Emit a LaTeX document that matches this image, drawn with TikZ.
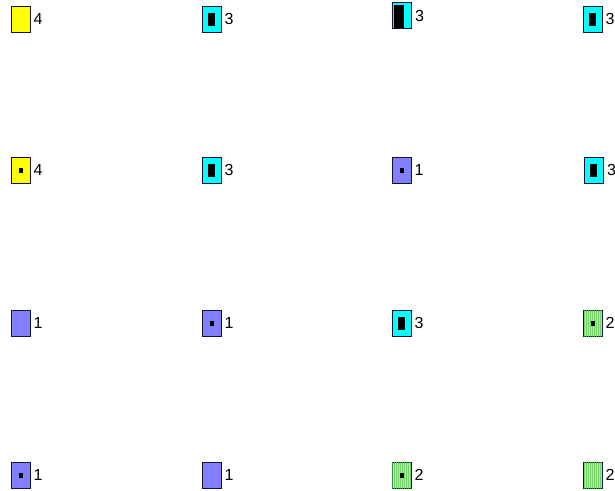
\documentclass[tikz,border=0pt]{standalone}
\usepackage{fontspec}
\setmainfont{Liberation Sans}
\usepackage{tikz}
\usetikzlibrary{positioning,patterns}
\definecolor{yelfill}{RGB}{255,255,0}
\definecolor{cyafill}{RGB}{0,255,255}
\definecolor{blufill}{RGB}{128,128,255}
\definecolor{grnfill}{RGB}{160,240,150}
\definecolor{grnline}{RGB}{100,200,90}
\definecolor{edgecol}{RGB}{20,20,50}
\pgfdeclarepatternformonly{finelines}{\pgfpointorigin}{\pgfqpoint{1.6pt}{1pt}}{\pgfqpoint{1.6pt}{1pt}}{
  \pgfsetlinewidth{0.5pt}
  \pgfpathmoveto{\pgfqpoint{0.4pt}{0pt}}
  \pgfpathlineto{\pgfqpoint{0.4pt}{1pt}}
  \pgfusepath{stroke}
}
\tikzset{
  cellbox/.style={draw=edgecol, line width=0.6pt, inner sep=0pt, minimum width=14.25pt, minimum height=19.5pt},
  yelcell/.style={cellbox, fill=yelfill},
  cyacell/.style={cellbox, fill=cyafill},
  blucell/.style={cellbox, fill=blufill},
  grncell/.style={cellbox, fill=grnfill, postaction={pattern=finelines, pattern color=grnline}},
  smallmark/.style={fill=black, inner sep=0pt, minimum width=3pt, minimum height=3.75pt},
  midmark/.style={fill=black, inner sep=0pt, minimum width=5.25pt, minimum height=9.75pt},
  bigmark/.style={fill=black, inner sep=0pt, minimum width=7.5pt, minimum height=17.25pt},
  lab/.style={inner sep=0pt, font=\fontsize{12}{14}\selectfont},
}

\begin{document}
\begin{tikzpicture}[x=0.75pt, y=-0.75pt, node distance=2.25pt]
  \useasboundingbox (0,0) rectangle (615,490);
  % first row
  \node[yelcell] (c11) at (20.5,19) {};
  \node[lab, right=of c11] (l11) {4};
  \node[cyacell] (c12) at (211.5,19) {};
  \node[midmark] (m12) at (c12) {};
  \node[lab, right=of c12] (l12) {3};
  \node[cyacell] (c13) at (402,15.5) {};
  \node[bigmark] (m13) at (399,16) {};
  \node[lab, right=of c13] (l13) {3};
  \node[cyacell] (c14) at (592.5,19) {};
  \node[midmark] (m14) at (c14) {};
  \node[lab, right=of c14] (l14) {3};
  % second row
  \node[yelcell] (c21) at (20.5,170) {};
  \node[smallmark] (m21) at (c21) {};
  \node[lab, right=of c21] (l21) {4};
  \node[cyacell] (c22) at (211.5,170) {};
  \node[midmark] (m22) at (c22) {};
  \node[lab, right=of c22] (l22) {3};
  \node[blucell] (c23) at (401.5,170) {};
  \node[smallmark] (m23) at (c23) {};
  \node[lab, right=of c23] (l23) {1};
  \node[cyacell] (c24) at (594,170) {};
  \node[midmark] (m24) at (593,170) {};
  \node[lab, right=of c24] (l24) {3};
  % third row
  \node[blucell] (c31) at (20.5,323) {};
  \node[lab, right=of c31] (l31) {1};
  \node[blucell] (c32) at (211.5,323) {};
  \node[smallmark] (m32) at (c32) {};
  \node[lab, right=of c32] (l32) {1};
  \node[cyacell] (c33) at (401.5,323) {};
  \node[midmark] (m33) at (c33) {};
  \node[lab, right=of c33] (l33) {3};
  \node[grncell] (c34) at (592.5,323) {};
  \node[smallmark] (m34) at (c34) {};
  \node[lab, right=of c34] (l34) {2};
  % fourth row
  \node[blucell] (c41) at (20.5,475) {};
  \node[smallmark] (m41) at (c41) {};
  \node[lab, right=of c41] (l41) {1};
  \node[blucell] (c42) at (211.5,475) {};
  \node[lab, right=of c42] (l42) {1};
  \node[grncell] (c43) at (401.5,475) {};
  \node[smallmark] (m43) at (c43) {};
  \node[lab, right=of c43] (l43) {2};
  \node[grncell] (c44) at (592.5,475) {};
  \node[lab, right=of c44] (l44) {2};
\end{tikzpicture}
\end{document}
